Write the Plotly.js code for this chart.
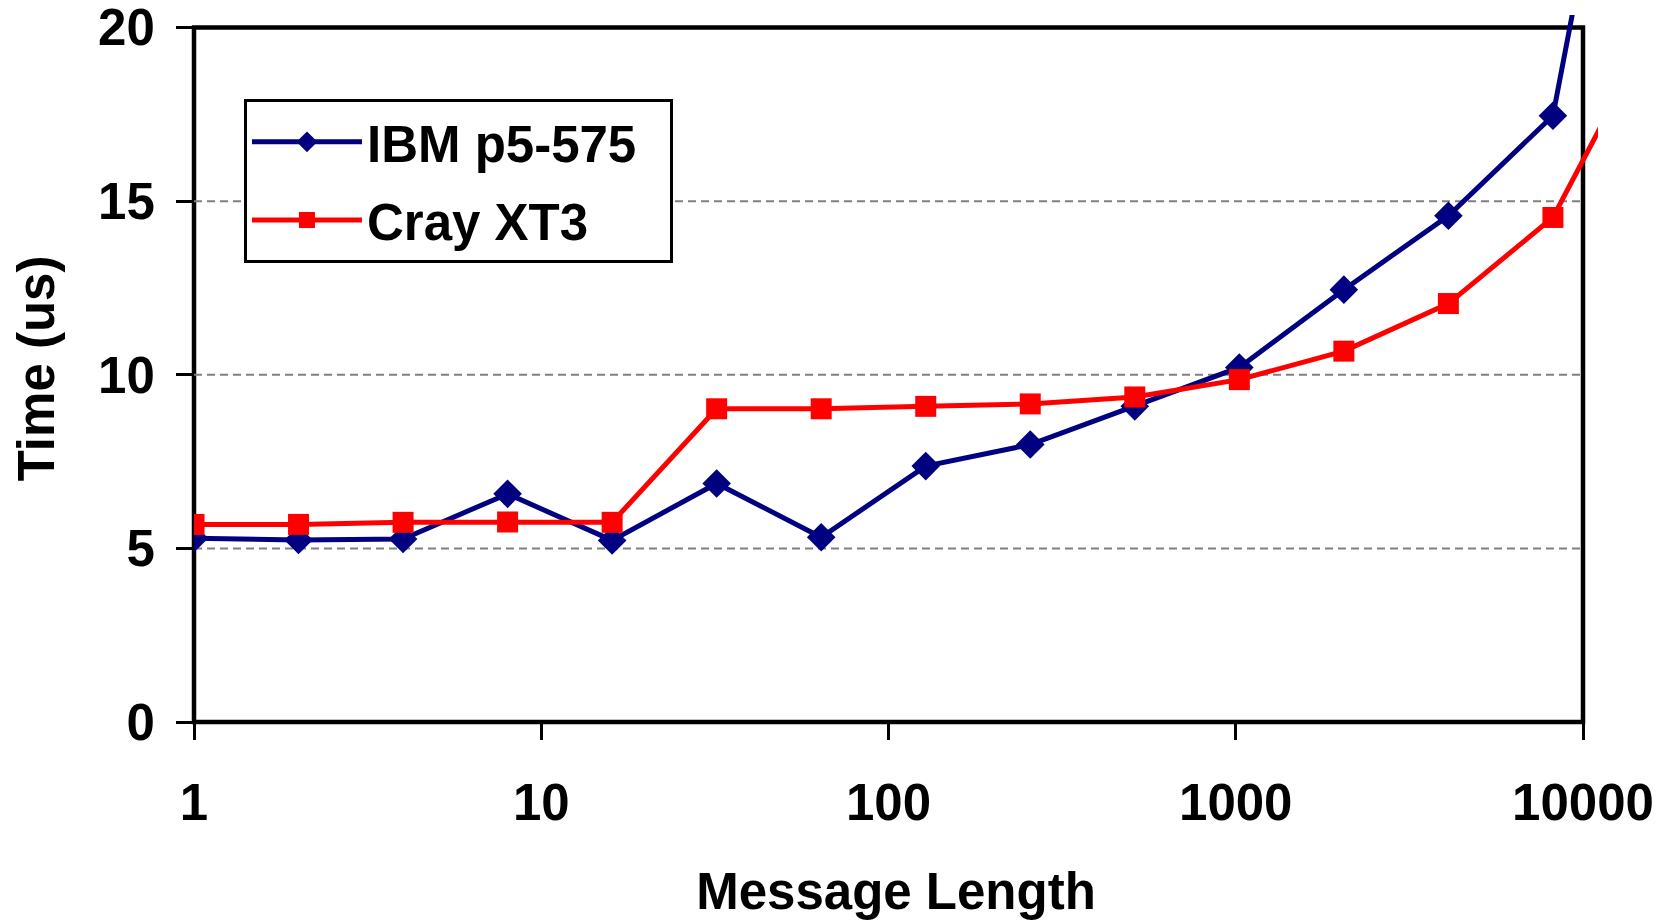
<!DOCTYPE html>
<html>
<head>
<meta charset="utf-8">
<script src="https://cdn.plot.ly/plotly-3.0.1.min.js"></script>
<style>
  html, body { margin: 0; padding: 0; background: #ffffff; }
  #chart { width: 1664px; height: 920px; }
</style>
</head>
<body>
<div id="chart"></div>
<script>
// ---- data ----
const messageLength = [1, 2, 4, 8, 16, 32, 64, 128, 256, 512, 1024, 2048, 4096, 8192, 16384];
const ibmTime  = [5.29, 5.24, 5.27, 6.57, 5.23, 6.87, 5.32, 7.37, 7.99, 9.09, 10.21, 12.45, 14.58, 17.46, 33.2];
const crayTime = [5.69, 5.69, 5.75, 5.76, 5.75, 9.02, 9.02, 9.09, 9.16, 9.36, 9.86, 10.68, 12.05, 14.53, 20.25];
const seriesNames = ["IBM p5-575", "Cray XT3"];
const xTickVals = [1, 10, 100, 1000, 10000];
const xTickText = ["1", "10", "100", "1000", "10000"];
const yTickVals = [0, 5, 10, 15, 20];
const gridVals = [5, 10, 15];

const FONT = "Liberation Sans, Arial, sans-serif";
const LEGEND_PAD = "\u00a0\u00a0"; // right padding inside the legend box

// axis ranges (slightly beyond the frame so lines run a little past it, as in the original)
const xRange = [0, 4.0432];
const yRange = [0, 20.36];

const traces = [
  {
    x: messageLength, y: ibmTime, name: seriesNames[0] + LEGEND_PAD, legendgroup: "a",
    type: "scatter", mode: "lines+markers",
    line: { color: "#000080", width: 5 },
    marker: { symbol: "diamond", size: 22, color: "#000080" }
  },
  {
    x: messageLength, y: crayTime, name: seriesNames[1] + LEGEND_PAD, legendgroup: "b",
    type: "scatter", mode: "lines+markers",
    line: { color: "#FF0000", width: 5 },
    marker: { symbol: "square", size: 21, color: "#FF0000" }
  }
];

const shapes = gridVals.map(v => ({
  type: "line", xref: "x", yref: "y", layer: "below",
  x0: xTickVals[0], x1: xTickVals[xTickVals.length - 1], y0: v, y1: v,
  line: { color: "#808080", width: 2, dash: "8px,5px" }
}));
// frame: placed in paper units derived from the axis ranges so it is not clipped
const fx0 = (Math.log10(xTickVals[0]) - xRange[0]) / (xRange[1] - xRange[0]);
const fx1 = (Math.log10(xTickVals[xTickVals.length - 1]) - xRange[0]) / (xRange[1] - xRange[0]);
const fy0 = (yTickVals[0] - yRange[0]) / (yRange[1] - yRange[0]);
const fy1 = (yTickVals[yTickVals.length - 1] - yRange[0]) / (yRange[1] - yRange[0]);
shapes.push({
  type: "rect", xref: "paper", yref: "paper", layer: "below",
  x0: fx0, x1: fx1, y0: fy0, y1: fy1,
  line: { color: "#000000", width: 4.5 }, fillcolor: "rgba(0,0,0,0)"
});

const layout = {
  width: 1664, height: 920,
  paper_bgcolor: "#ffffff", plot_bgcolor: "rgba(0,0,0,0)",
  margin: { l: 194, r: 66, t: 15, b: 198.4, pad: 0 },
  font: { family: FONT, size: 51, color: "#000000", weight: "bold" },
  showlegend: true,
  legend: {
    x: 0.0356, y: 0.881, xanchor: "left", yanchor: "top",
    bgcolor: "#ffffff", bordercolor: "#000000", borderwidth: 3,
    font: { family: FONT, size: 51, color: "#000000", weight: "bold" },
    itemwidth: 110, tracegroupgap: 9
  },
  xaxis: {
    type: "log",
    range: xRange,
    tickvals: xTickVals, ticktext: xTickText,
    ticks: "outside", ticklen: 17, tickwidth: 3, tickcolor: "#000000",
    ticklabelstandoff: 19, ticklabeloverflow: "allow",
    showgrid: false, zeroline: false, showline: false,
    tickfont: { family: FONT, size: 51, color: "#000000", weight: "bold" },
    title: { text: "Message Length", font: { family: FONT, size: 51, color: "#000000", weight: "bold" }, standoff: 49 },
    automargin: false
  },
  yaxis: {
    range: yRange,
    tickvals: yTickVals,
    ticks: "outside", ticklen: 17, tickwidth: 3, tickcolor: "#000000",
    ticklabelstandoff: 11, ticklabeloverflow: "allow",
    showgrid: false, zeroline: false, showline: false,
    tickfont: { family: FONT, size: 51, color: "#000000", weight: "bold" },
    title: { text: "Time (us)", font: { family: FONT, size: 51, color: "#000000", weight: "bold" }, standoff: 27 },
    automargin: false
  },
  shapes: shapes
};

Plotly.newPlot("chart", traces, layout, { displayModeBar: false, staticPlot: true });
</script>
</body>
</html>
